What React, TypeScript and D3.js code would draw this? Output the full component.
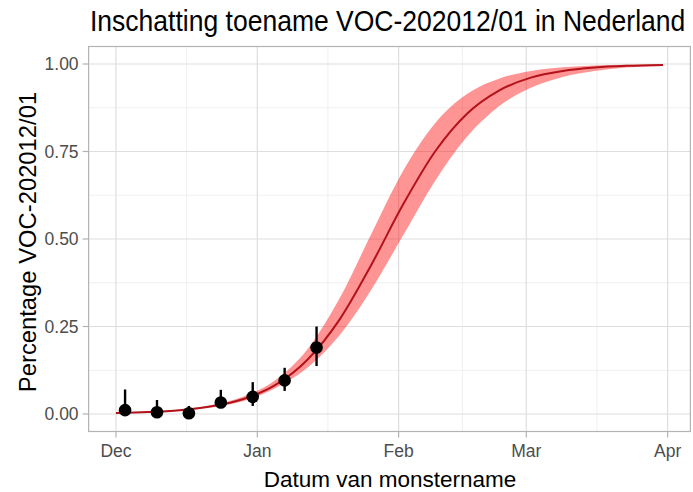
import React from "react";
import * as d3 from "d3";

// ---- data ----
const curveDates = [
  "2020-12-01", "2020-12-08", "2020-12-15", "2020-12-22", "2020-12-29",
  "2021-01-05", "2021-01-12", "2021-01-19", "2021-01-26", "2021-02-02",
  "2021-02-09", "2021-02-16", "2021-02-23", "2021-03-02", "2021-03-09",
  "2021-03-16", "2021-03-23", "2021-03-31",
];
const curveMid = [0.0027, 0.0055, 0.011, 0.022, 0.043, 0.083, 0.155, 0.269, 0.426, 0.599, 0.75, 0.858, 0.924, 0.961, 0.98, 0.99, 0.995, 0.9975];
const curveLow = [0.0015, 0.004, 0.009, 0.019, 0.037, 0.074, 0.132, 0.224, 0.355, 0.511, 0.666, 0.792, 0.879, 0.932, 0.963, 0.98, 0.99, 0.9945];
const curveHigh = [0.004, 0.007, 0.013, 0.026, 0.05, 0.097, 0.185, 0.329, 0.514, 0.695, 0.831, 0.914, 0.958, 0.98, 0.991, 0.996, 0.998, 0.999];

const obsDates = ["2020-12-03", "2020-12-10", "2020-12-17", "2020-12-24", "2020-12-31", "2021-01-07", "2021-01-14"];
const obsValue = [0.011, 0.005, 0.002, 0.033, 0.049, 0.096, 0.19];
const obsLow = [0.0, 0.0, 0.0, 0.017, 0.023, 0.066, 0.137];
const obsHigh = [0.07, 0.04, 0.023, 0.069, 0.091, 0.132, 0.25];

const monthTicks = ["2020-12-01", "2021-01-01", "2021-02-01", "2021-03-01", "2021-04-01"];
const monthLabels = ["Dec", "Jan", "Feb", "Mar", "Apr"];
const yTicks = [0, 0.25, 0.5, 0.75, 1];

const titleText = "Inschatting toename VOC-202012/01 in Nederland";
const xTitle = "Datum van monstername";
const yTitle = "Percentage VOC-202012/01";

const W = 693;
const H = 492;

export default function App() {
  const panel = { left: 88.6, right: 690.4, top: 46.5, bottom: 431.5 };
  const parse = (s: string) => new Date(s + "T00:00:00");
  const cDates = curveDates.map(parse);
  const tExtent = d3.extent(cDates) as [Date, Date];
  const padX = (panel.right - panel.left) * 0.05 / 1.1;
  const x = d3.scaleTime().domain(tExtent).range([panel.left + padX, panel.right - padX]);
  const padY = (panel.bottom - panel.top) * 0.05 / 1.1;
  const y = d3.scaleLinear().domain([0, 1]).range([panel.bottom - padY, panel.top + padY]);

  const curveData = cDates.map((d, i) => ({ d, m: curveMid[i], lo: curveLow[i], hi: curveHigh[i] }));
  const area = d3.area<any>().x((p) => x(p.d)).y0((p) => y(p.lo)).y1((p) => y(p.hi)).curve(d3.curveMonotoneX);
  const line = d3.line<any>().x((p) => x(p.d)).y((p) => y(p.m)).curve(d3.curveMonotoneX);

  const majorX = monthTicks.map(parse);
  const minorX = majorX.slice(0, -1).map((d, i) => new Date((d.getTime() + majorX[i + 1].getTime()) / 2));
  const minorY = yTicks.slice(0, -1).map((v, i) => (v + yTicks[i + 1]) / 2);

  const fmt = d3.format(".2f");
  const font = "'Liberation Sans', Arial, Helvetica, sans-serif";

  return (
    <svg width={W} height={H} style={{ position: "absolute", left: 0, top: 0, background: "#fff" }} fontFamily={font}>
      <rect x={0} y={0} width={W} height={H} fill="#fff" />
      {/* minor grid */}
      {minorX.map((d, i) => (
        <line key={"mx" + i} x1={x(d)} x2={x(d)} y1={panel.top} y2={panel.bottom} stroke="#ececec" strokeWidth={0.8} />
      ))}
      {minorY.map((v, i) => (
        <line key={"my" + i} x1={panel.left} x2={panel.right} y1={y(v)} y2={y(v)} stroke="#ececec" strokeWidth={0.8} />
      ))}
      {/* major grid */}
      {majorX.map((d, i) => (
        <line key={"gx" + i} x1={x(d)} x2={x(d)} y1={panel.top} y2={panel.bottom} stroke="#dedede" strokeWidth={1.2} />
      ))}
      {yTicks.map((v, i) => (
        <line key={"gy" + i} x1={panel.left} x2={panel.right} y1={y(v)} y2={y(v)} stroke="#dedede" strokeWidth={1.2} />
      ))}

      {/* ribbon and line */}
      <path d={area(curveData) || ""} fill="#ff0000" fillOpacity={0.42} />
      <path d={line(curveData) || ""} fill="none" stroke="#b3121a" strokeWidth={2} />

      {/* observations */}
      {obsDates.map((s, i) => {
        const cx = x(parse(s));
        return (
          <g key={"o" + i}>
            <line x1={cx} x2={cx} y1={y(obsLow[i])} y2={y(obsHigh[i])} stroke="#000" strokeWidth={2.4} />
            <circle cx={cx} cy={y(obsValue[i])} r={6.3} fill="#000" />
          </g>
        );
      })}

      {/* panel border */}
      <rect x={panel.left} y={panel.top} width={panel.right - panel.left} height={panel.bottom - panel.top} fill="none" stroke="#b3b3b3" strokeWidth={1.2} />

      {/* y axis */}
      {yTicks.map((v, i) => (
        <g key={"yt" + i}>
          <line x1={panel.left - 6} x2={panel.left} y1={y(v)} y2={y(v)} stroke="#b3b3b3" strokeWidth={1.2} />
          <text x={panel.left - 10} y={y(v)} dy="0.36em" textAnchor="end" fontSize={17.5} fill="#4d4d4d">{fmt(v)}</text>
        </g>
      ))}
      {/* x axis */}
      {majorX.map((d, i) => (
        <g key={"xt" + i}>
          <line x1={x(d)} x2={x(d)} y1={panel.bottom} y2={panel.bottom + 6} stroke="#b3b3b3" strokeWidth={1.2} />
          <text x={x(d)} y={457} textAnchor="middle" fontSize={17.5} fill="#4d4d4d">{monthLabels[i]}</text>
        </g>
      ))}

      {/* titles */}
      <text transform="translate(90,31) scale(0.884,1)" x={0} y={0} fontSize={30} fill="#000">{titleText}</text>
      <text x={390} y={487} textAnchor="middle" fontSize={22.5} fill="#000">{xTitle}</text>
      <text transform={`translate(36,242) rotate(-90)`} textAnchor="middle" fontSize={23.8} fill="#000">{yTitle}</text>
    </svg>
  );
}
